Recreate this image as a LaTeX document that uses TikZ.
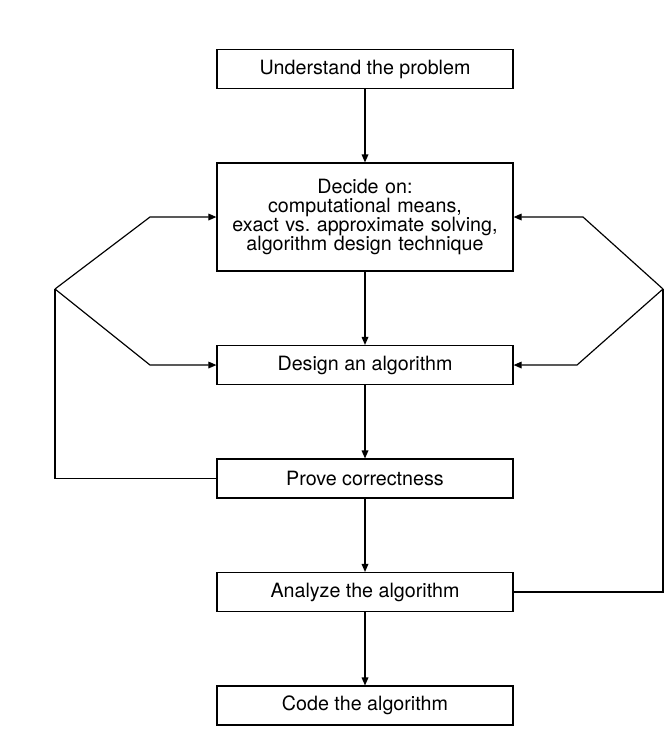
\documentclass[tikz,border=0pt]{standalone}
\usepackage{fontspec}
\setmainfont{TeX Gyre Heros}
\usetikzlibrary{arrows.meta,positioning}

\begin{document}
\begin{tikzpicture}[x=0.03cm, y=-0.03cm, node distance = 2.2cm, font=\fontsize{16.8}{16.2}\selectfont]
\tikzset{
operation/.style = {rectangle, draw, line width=1pt, minimum width=8.88cm, minimum height=1.17cm, text centered},
decision/.style = {rectangle, draw, line width=1pt, minimum width=8.88cm, minimum height=3.24cm, text width=8.6cm, align=center},
line/.style = {draw, line width=1pt, -{Triangle[length=2.4mm,width=2mm]}},
wire/.style = {draw, line width=1pt}
}
\useasboundingbox (0,0) rectangle (666,731);

     \node [operation] (understand) at (365,69) {Understand the problem};
     \node [decision, below=of understand] (decide) {Decide on:\\ computational means,\\ exact vs.\ approximate solving,\\ algorithm design technique};
     \node [operation, below=of decide] (design) {Design an algorithm};
     \node [operation, below=of design] (prove) {Prove correctness};
     \node [operation, below=of prove] (analyze) {Analyze the algorithm};
     \node [operation, below=of analyze] (code) {Code the algorithm};

     \path [line] (understand) -- (decide);
     \path [line] (decide) -- (design);
     \path [line] (design) -- (prove);
     \path [line] (prove) -- (analyze);
     \path [line] (analyze) -- (code);

     % left loop back from Prove correctness
     \coordinate (ljoin) at (55,289);
     \coordinate (lup) at (150,0 |- decide.west);
     \coordinate (llow) at (150,0 |- design.west);
     \path [wire] (prove.west) -| (ljoin);
     \path [line] (ljoin) -- (lup) -- (decide.west);
     \path [line] (ljoin) -- (llow) -- (design.west);

     % right loop back from Analyze the algorithm
     \coordinate (rjoin) at (663,289);
     \coordinate (rup) at (583,0 |- decide.east);
     \coordinate (rlow) at (577,0 |- design.east);
     \path [wire] (analyze.east) -| (rjoin);
     \path [line] (rjoin) -- (rup) -- (decide.east);
     \path [line] (rjoin) -- (rlow) -- (design.east);
\end{tikzpicture}
\end{document}
